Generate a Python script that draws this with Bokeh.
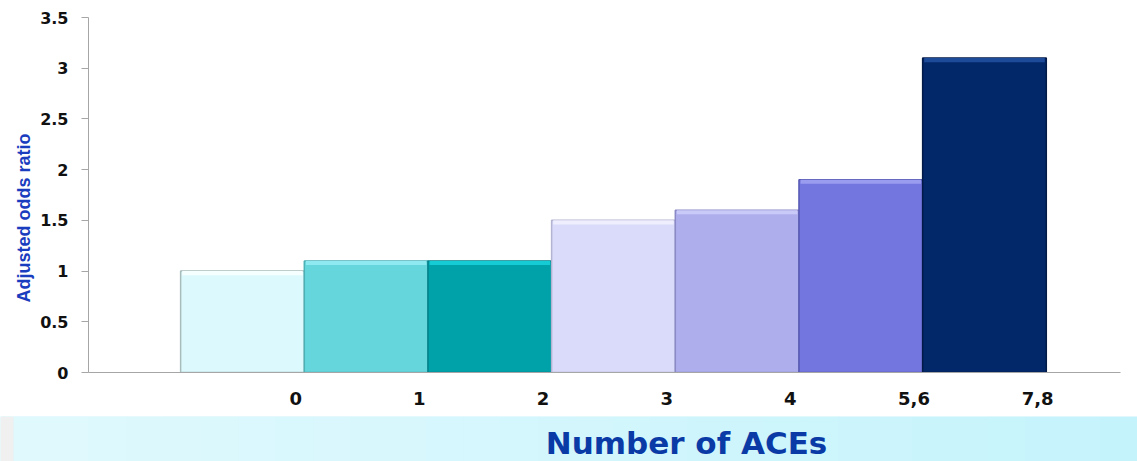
from bokeh.plotting import figure
from bokeh.models import Range1d, FixedTicker, NumeralTickFormatter, Title, ColumnDataSource
from bokeh.layouts import column
from bokeh.embed import file_html
from bokeh.resources import INLINE
from bokeh.core.properties import value

# ---- data ----
categories = ["0", "1", "2", "3", "4", "5,6", "7,8"]
odds_ratio = [1.0, 1.1, 1.1, 1.5, 1.6, 1.9, 3.1]
bar_colors = ["#dcfafd", "#64d6dc", "#00a2aa", "#dadafb", "#afaeed", "#7476df", "#032869"]
bar_edges = ["#a9bcbc", "#4cb0b5", "#00808a", "#b3b3d2", "#8b8ac6", "#5658b2", "#021a48"]
bar_highlights = ["#f6ffff", "#8eeaf0", "#16ccd4", "#eeeeff", "#cacaf8", "#9a9cf0", "#1e4a9a"]
y_ticks = [0, 0.5, 1, 1.5, 2, 2.5, 3, 3.5]
x_title = "Number of ACEs"
y_title = "Adjusted odds ratio"
banner_left_rgb = (224, 249, 253)
banner_right_rgb = (197, 243, 252)

W = 1137
CHART_H = 416
BANNER_H = 45

idx = list(range(len(categories)))
label_pos = [i + 0.93 for i in idx]
src = ColumnDataSource(dict(
    x=[i + 0.5 for i in idx],
    top=odds_ratio,
    fill=bar_colors,
    edge=bar_edges,
    hl=bar_highlights,
    hl_bottom=[v - 0.04 for v in odds_ratio],
))

p = figure(width=W, height=CHART_H, output_backend="svg", toolbar_location=None,
           x_range=Range1d(-0.745, 7.6), y_range=Range1d(0, 3.5),
           min_border_left=88, min_border_right=17, min_border_top=17, min_border_bottom=44,
           frame_align=False)
p.outline_line_color = None
p.xgrid.visible = False
p.ygrid.visible = False

p.vbar(x="x", top="top", bottom=0, width=1.0, fill_color="fill", line_color="edge",
       line_width=1.5, source=src)
p.vbar(x="x", top="top", bottom="hl_bottom", width=0.975, fill_color="hl", line_color=None,
       source=src)

# x axis
p.xaxis.ticker = FixedTicker(ticks=label_pos)
p.xaxis.major_label_overrides = {pos: c for pos, c in zip(label_pos, categories)}
p.xaxis.major_tick_line_color = None
p.xaxis.major_tick_out = 0
p.xaxis.major_tick_in = 0
p.xaxis.minor_tick_line_color = None
p.xaxis.axis_line_color = "#a6a6a6"
p.xaxis.major_label_text_font = "DejaVu Sans"
p.xaxis.major_label_text_font_style = "bold"
p.xaxis.major_label_text_font_size = "18px"
p.xaxis.major_label_text_color = "#111111"
p.xaxis.major_label_standoff = 19

# y axis
p.yaxis.ticker = FixedTicker(ticks=y_ticks)
p.yaxis.formatter = NumeralTickFormatter(format="0.[0]")
p.yaxis.major_tick_out = 7
p.yaxis.major_tick_in = 0
p.yaxis.minor_tick_line_color = None
p.yaxis.axis_line_color = "#a6a6a6"
p.yaxis.major_tick_line_color = "#a6a6a6"
p.yaxis.major_label_text_font = "DejaVu Sans"
p.yaxis.major_label_text_font_style = "bold"
p.yaxis.major_label_text_font_size = "16px"
p.yaxis.major_label_text_color = "#111111"
p.yaxis.major_label_standoff = 13

# y title as a side title (offset lets it sit where the reference has it)
p.add_layout(Title(text=y_title, align="left", offset=70, standoff=8,
                   text_font="Liberation Sans", text_font_style="bold",
                   text_font_size="18px", text_color="#1a3cbe"), "left")

# bottom banner with the x title
b = figure(width=W, height=BANNER_H, output_backend="svg", toolbar_location=None,
           x_range=Range1d(0, W), y_range=Range1d(0, BANNER_H),
           x_axis_location=None, y_axis_location=None,
           min_border_left=0, min_border_right=0, min_border_top=0, min_border_bottom=0,
           frame_align=False)
b.xgrid.visible = False
b.ygrid.visible = False
b.outline_line_color = None
b.background_fill_color = "#d4f5fb"
b.border_fill_color = "#d4f5fb"
n_bands = 30
band_w = (W - 13) / n_bands
band_cols = []
for k in range(n_bands):
    t = k / (n_bands - 1)
    rgb = [round(a + (c - a) * t) for a, c in zip(banner_left_rgb, banner_right_rgb)]
    band_cols.append("#%02x%02x%02x" % tuple(rgb))
b.quad(left=[13 + k * band_w for k in range(n_bands)],
       right=[13 + (k + 1) * band_w + 0.5 for k in range(n_bands)],
       bottom=0, top=BANNER_H, fill_color=band_cols, line_color=None)
b.quad(left=[0], right=[13], bottom=[0], top=[BANNER_H], fill_color="#f0f0f0", line_color=None)
b.text(x=[686], y=[19], text=[x_title], text_align="center", text_baseline="middle",
       text_font=value("DejaVu Sans"), text_font_style="bold", text_font_size="31px",
       text_color="#0a3aa6")

layout = column(p, b, spacing=0)
open("out.html", "w").write(file_html(layout, INLINE))
